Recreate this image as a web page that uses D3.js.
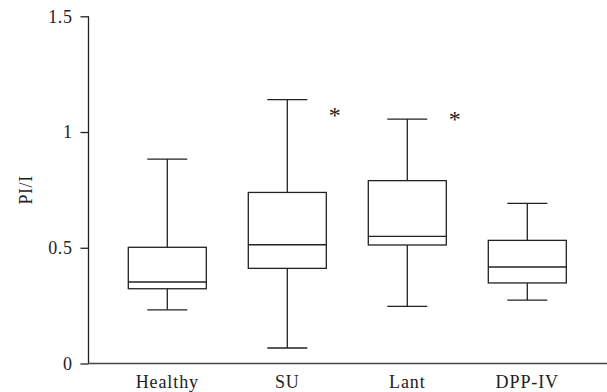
<!DOCTYPE html>
<html><head><meta charset="utf-8">
<script src="https://cdn.jsdelivr.net/npm/d3@7"></script>
<style>body{margin:0;background:#fff}svg{display:block}</style>
</head><body>
<svg id="c" width="607" height="392"></svg>
<script>
const categories = ["Healthy", "SU", "Lant", "DPP-IV"];
const whiskerLow = [0.232, 0.067, 0.247, 0.274];
const q1 = [0.323, 0.411, 0.512, 0.348];
const median = [0.352, 0.513, 0.549, 0.417];
const q3 = [0.502, 0.739, 0.790, 0.532];
const whiskerHigh = [0.883, 1.140, 1.056, 0.692];
const asteriskAt = [null, 1.086, 1.069, null];
const yTicks = [0, 0.5, 1, 1.5];
const yLabel = "PI/I";

const data = categories.map((c, i) => ({
  cat: c, lo: whiskerLow[i], q1: q1[i], med: median[i], q3: q3[i], hi: whiskerHigh[i], star: asteriskAt[i]
}));

const svg = d3.select("#c");
const font = "'Liberation Serif', 'Times New Roman', serif";
const ink = "#222";

const y = d3.scaleLinear().domain([0, 1.5]).range([363.5, 16.3]);
const x = d3.scaleBand().domain(categories).range([107.3, 587.3]).paddingInner(0.35).paddingOuter(0.175);
const bw = x.bandwidth();
const capW = 40;

// y axis
const yAxis = svg.append("g").attr("transform", "translate(88.5,0)")
  .call(d3.axisLeft(y).tickValues(yTicks).tickSize(8).tickPadding(8).tickFormat(d => String(d)));
yAxis.selectAll("path").attr("stroke", ink).attr("stroke-width", 1.3).attr("d", `M0,${y(1.5)}V${y(0)}`);
yAxis.selectAll("line").attr("stroke", ink).attr("stroke-width", 1.3);
yAxis.selectAll("text").attr("font-family", font).attr("font-size", 18).attr("letter-spacing", 0.6).attr("fill", "#222");

// x axis
const xAxis = svg.append("g").attr("transform", `translate(0,${y(0)})`)
  .call(d3.axisBottom(x).tickSize(0).tickPadding(12));
xAxis.selectAll("path").attr("stroke", "#444").attr("stroke-width", 1.6).attr("d", "M88,0H607");
xAxis.selectAll("text").attr("font-family", font).attr("font-size", 18).attr("letter-spacing", 0.9).attr("fill", "#222");

// y label
svg.append("text").attr("transform", `translate(32,${(y(0) + y(1.5)) / 2}) rotate(-90)`)
  .attr("text-anchor", "middle").attr("font-family", font).attr("font-size", 18).attr("letter-spacing", 0.6).attr("fill", "#222")
  .text(yLabel);

// boxes
const g = svg.append("g").attr("stroke", ink).attr("stroke-width", 1.3).attr("fill", "none");
data.forEach(d => {
  const x0 = x(d.cat), cx = x0 + bw / 2;
  g.append("line").attr("x1", cx).attr("x2", cx).attr("y1", y(d.hi)).attr("y2", y(d.q3));
  g.append("line").attr("x1", cx).attr("x2", cx).attr("y1", y(d.q1)).attr("y2", y(d.lo));
  g.append("line").attr("x1", cx - capW / 2).attr("x2", cx + capW / 2).attr("y1", y(d.hi)).attr("y2", y(d.hi));
  g.append("line").attr("x1", cx - capW / 2).attr("x2", cx + capW / 2).attr("y1", y(d.lo)).attr("y2", y(d.lo));
  g.append("rect").attr("x", x0).attr("y", y(d.q3)).attr("width", bw).attr("height", y(d.q1) - y(d.q3));
  g.append("line").attr("x1", x0).attr("x2", x0 + bw).attr("y1", y(d.med)).attr("y2", y(d.med));
  if (d.star != null) {
    svg.append("text").attr("x", x0 + bw + 8.5).attr("y", y(d.star) + 11)
      .attr("text-anchor", "middle").attr("font-family", font).attr("font-size", 24).attr("fill", "#222")
      .text("*");
  }
});
</script>
</body></html>
